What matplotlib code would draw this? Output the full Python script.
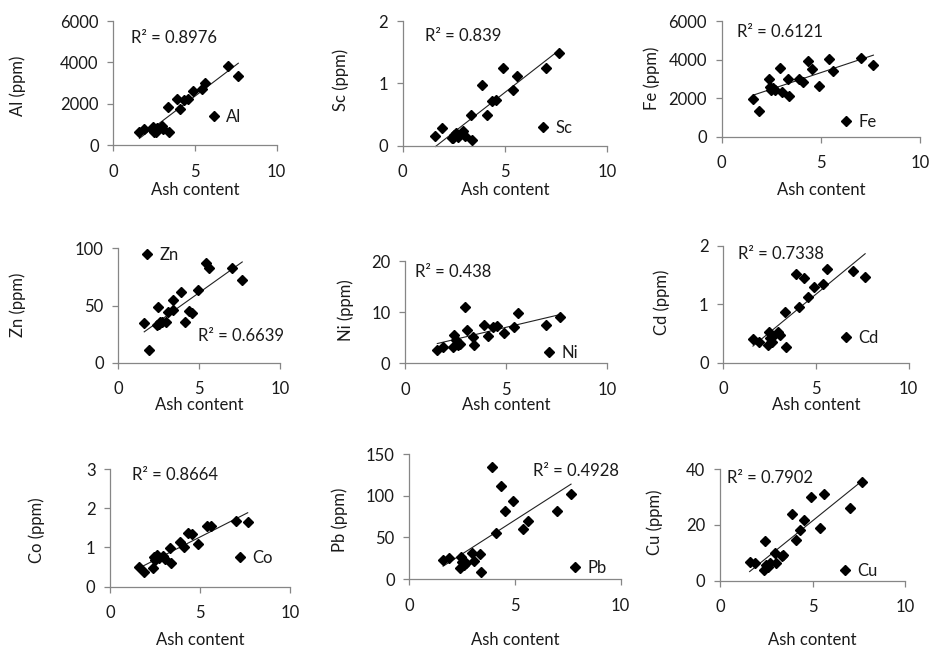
import numpy as np
import matplotlib
matplotlib.use("Agg")
import matplotlib.pyplot as plt
from matplotlib.lines import Line2D

# Ash content of the samples (%), shared by every panel
ash = [1.6, 1.9, 2.4, 2.45, 2.5, 2.6, 2.7, 2.95, 3.05, 3.35,
       3.4, 3.9, 4.1, 4.35, 4.55, 4.9, 5.4, 5.6, 7.0, 7.65]

# Element concentrations (ppm), one value per sample
al = [645, 758, 887, 720, 640, 645, 800, 920, 780, 1823,
      613, 2210, 1726, 2177, 2210, 2629, 2694, 3016, 3823, 3355]
sc = [0.155, 0.28, 0.12, 0.13, 0.17, 0.20, 0.14, 0.235, 0.155, 0.49,
      0.09, 0.97, 0.49, 0.72, 0.74, 1.24, 0.89, 1.12, 1.24, 1.49]
fe = [1966, 1316, 2991, 2564, 2444, 2513, 2444, 3538, 2308, 2974,
      2120, 3008, 2838, 3931, 3504, 2650, 4051, 3385, 4085, 3726]
zn = [34.4, 11.1, 33.0, 48.4, 34.0, 36.0, 35.3, 35.8, 44.6, 54.8,
      46.0, 61.5, 35.3, 45.2, 43.2, 63.5, 86.9, 83.0, 83.0, 72.3]
ni = [2.6, 3.1, 3.1, 5.5, 4.6, 3.5, 3.8, 11.0, 6.5, 5.1,
      3.6, 7.5, 5.3, 7.0, 7.2, 5.9, 7.0, 9.8, 7.5, 9.0]
cd = [0.40, 0.36, 0.31, 0.52, 0.42, 0.36, 0.45, 0.52, 0.48, 0.86,
      0.27, 1.51, 0.96, 1.44, 1.13, 1.30, 1.34, 1.60, 1.56, 1.46]
co = [0.51, 0.38, 0.47, 0.76, 0.68, 0.80, 0.72, 0.78, 0.70, 0.98,
      0.61, 1.15, 1.02, 1.38, 1.34, 1.10, 1.55, 1.55, 1.68, 1.64]
pb = [22.9, 25.7, 13.7, 26.9, 20.9, 16.9, 19.7, 30.9, 21.7, 30.1,
      8.8, 135.0, 55.0, 112.0, 82.0, 94.0, 60.6, 70.3, 82.3, 102.4]
cu = [6.8, 6.5, 4.0, 14.2, 5.6, 5.0, 6.2, 10.0, 6.2, 8.8,
      9.2, 24.0, 14.5, 18.1, 21.7, 29.8, 19.0, 31.0, 26.2, 35.4]

elements = ["Al", "Sc", "Fe", "Zn", "Ni", "Cd", "Co", "Pb", "Cu"]
values = [al, sc, fe, zn, ni, cd, co, pb, cu]
r2_labels = ["0.8976", "0.839", "0.6121", "0.6639", "0.438",
             "0.7338", "0.8664", "0.4928", "0.7902"]
y_max = [6000, 2, 6000, 100, 20, 2, 3, 150, 40]
y_step = [2000, 1, 2000, 50, 10, 1, 1, 50, 20]
x_ticks = [0, 5, 10]

# Panel geometry in pixels: x of 0 and 10, y of 0 and of the top tick
frames = [
    (113.3, 276.7, 145.0, 21.0),
    (402.7, 607.3, 145.7, 21.0),
    (721.7, 920.0, 136.7, 21.0),
    (118.3, 280.3, 362.7, 248.3),
    (405.0, 607.0, 363.3, 261.0),
    (723.3, 908.7, 362.7, 245.7),
    (110.0, 290.0, 586.7, 469.0),
    (409.3, 620.7, 579.0, 454.3),
    (720.0, 905.0, 580.7, 469.0),
]
r2_pos = [(131, 38), (425, 36), (737, 32), (198, 336), (415, 272),
          (738, 254), (132, 475), (533, 471), (727, 478)]
legend_pos = [(213, 117), (542, 128), (845, 122), (146, 255), (548, 353),
              (845, 338), (239, 558), (574, 568), (844, 571)]
ylabel_pos = [(18, 86), (341, 80), (652, 78), (18, 305), (346, 310),
              (662, 302), (37, 530), (340, 520), (655, 522)]
xlabel_y = [190, 190, 190, 405, 405, 405, 640, 640, 640]

W, H = 935, 657
plt.rcParams["font.family"] = ["Lato", "DejaVu Sans"]
fig = plt.figure(figsize=(W / 100, H / 100), dpi=100)
fig.patch.set_facecolor("white")

AXIS_GREY = "#868686"
TEXT = "#1a1a1a"
FS = 12
MS = 5.0


def fx(px):
    return px / W


def fy(py):
    return 1 - py / H


for i, name in enumerate(elements):
    x0, x10, y0, ytop = frames[i]
    ax = fig.add_axes([fx(x0), fy(y0), fx(x10 - x0), (y0 - ytop) / H])
    ax.set_xlim(0, 10)
    ax.set_ylim(0, y_max[i])
    ax.set_xticks(x_ticks)
    ax.set_yticks(np.arange(0, y_max[i] + y_step[i] / 2, y_step[i]))
    ax.patch.set_alpha(0)
    for side in ("top", "right"):
        ax.spines[side].set_visible(False)
    for side in ("left", "bottom"):
        ax.spines[side].set_color(AXIS_GREY)
        ax.spines[side].set_linewidth(0.9)
    ax.tick_params(direction="out", length=4, width=0.9, color=AXIS_GREY,
                   labelsize=FS, labelcolor=TEXT)
    ax.tick_params(axis="x", pad=9.5)
    ax.tick_params(axis="y", pad=6.5)

    x = np.array(ash)
    y = np.array(values[i])
    ax.plot(x, y, linestyle="none", marker="D", markersize=MS,
            color="black", clip_on=False, zorder=3)

    # linear trendline over the sampled range
    slope, intercept = np.polyfit(x, y, 1)
    xs = np.array([x.min(), x.max()])
    ax.plot(xs, slope * xs + intercept, color="#222222", linewidth=0.8,
            clip_on=False, zorder=2)

    fig.text(fx(r2_pos[i][0]), fy(r2_pos[i][1]), "R² = " + r2_labels[i],
             fontsize=FS, ha="left", va="center", color=TEXT)

    handle = Line2D([], [], linestyle="none", marker="D", markersize=MS,
                    color="black")
    lx, ly = legend_pos[i]
    leg = ax.legend([handle], [name], loc="center left",
                    bbox_to_anchor=(fx(lx - 6), fy(ly)),
                    bbox_transform=fig.transFigure, frameon=False,
                    handlelength=0.8, handletextpad=0.35, borderpad=0,
                    borderaxespad=0, fontsize=FS, numpoints=1)
    for t in leg.get_texts():
        t.set_color(TEXT)

    ax.set_ylabel(name + " (ppm)", fontsize=FS, color=TEXT)
    ax.yaxis.set_label_coords(fx(ylabel_pos[i][0]), fy(ylabel_pos[i][1]),
                              transform=fig.transFigure)
    ax.yaxis.label.set_va("center")
    ax.set_xlabel("Ash content", fontsize=FS, color=TEXT)
    ax.xaxis.set_label_coords(fx((x0 + x10) / 2), fy(xlabel_y[i]),
                              transform=fig.transFigure)
    ax.xaxis.label.set_va("center")

fig.savefig("out.png", dpi=100, facecolor="white")
